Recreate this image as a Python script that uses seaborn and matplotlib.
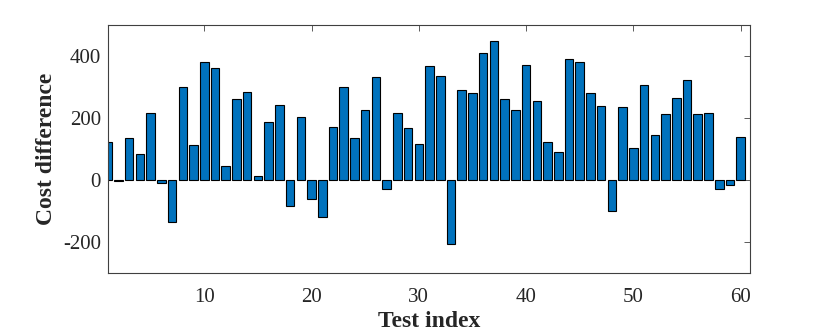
import pandas as pd
import matplotlib
matplotlib.use('Agg')
import matplotlib.pyplot as plt
import seaborn as sns

# テスト番号とコスト差
test_index = list(range(1, 61))
cost_diff = [
    123, -3, 134, 84, 217, -9, -137, 299, 113, 381,
    360, 44, 260, 285, 12, 188, 243, -85, 202, -61,
    -119, 170, 301, 134, 227, 331, -31, 217, 168, 116,
    369, 335, -207, 290, 282, 411, 447, 261, 227, 372,
    256, 123, 90, 390, 379, 282, 238, -102, 235, 102,
    307, 145, 212, 264, 322, 212, 217, -29, -18, 140,
]
x_ticks = [10, 20, 30, 40, 50, 60]
y_ticks = [-200, 0, 200, 400]

df = pd.DataFrame({'test': test_index, 'diff': cost_diff})

sns.set_style('white')
plt.rcParams['font.family'] = ['Liberation Serif', 'DejaVu Serif']
plt.rcParams['axes.unicode_minus'] = False

fig = plt.figure(figsize=(8.3, 3.36), dpi=100)
ax = fig.add_axes([0.1298, 0.188, 0.7742, 0.7376])

sns.barplot(data=df, x='test', y='diff', native_scale=True, width=0.8,
            color='#0072BD', saturation=1, edgecolor='black', linewidth=0.8,
            errorbar=None, ax=ax)

ax.set_xlim(1, 60.9)
ax.set_ylim(-300, 500)
ax.set_xticks(x_ticks)
ax.set_yticks(y_ticks)
ax.tick_params(direction='in', top=True, right=True, labelsize=15,
               length=4, width=0.6, color='#404040')
ax.tick_params(axis='x', pad=11)
ax.tick_params(axis='y', pad=5)
for s in ax.spines.values():
    s.set_color('#404040')
    s.set_linewidth(0.8)

ax.set_xlabel('Test index', fontsize=17, fontweight='bold', labelpad=3)
ax.set_ylabel('Cost difference', fontsize=17, fontweight='bold', labelpad=4)

fig.savefig('out.png', dpi=100)
